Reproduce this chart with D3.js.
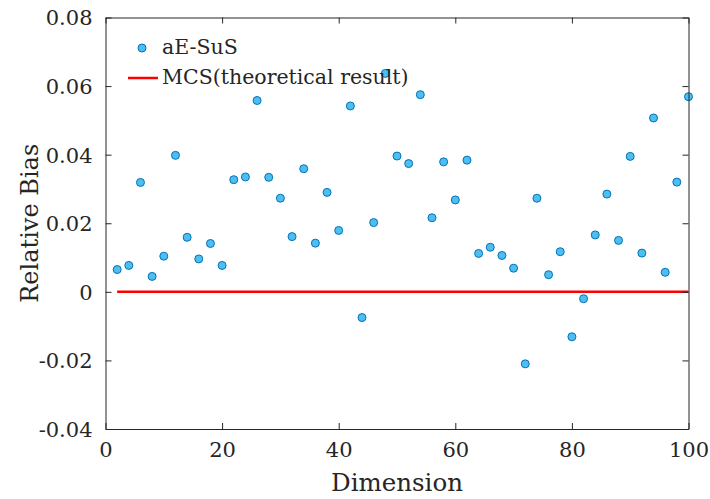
<!DOCTYPE html>
<html><head><meta charset="utf-8">
<script src="https://cdn.jsdelivr.net/npm/d3@7"></script>
<style>html,body{margin:0;padding:0;background:#fff;}svg{display:block;}</style>
</head><body>
<script>
const dims = [2,4,6,8,10,12,14,16,18,20,22,24,26,28,30,32,34,36,38,40,42,44,46,48,50,52,54,56,58,60,62,64,66,68,70,72,74,76,78,80,82,84,86,88,90,92,94,96,98,100];
const biasValues = [0.0065,0.0077,0.0319,0.0045,0.0104,0.0398,0.0159,0.0096,0.0141,0.0077,
  0.0327,0.0335,0.0558,0.0334,0.0273,0.0161,0.0359,0.0142,0.0290,0.0179,
  0.0542,-0.0075,0.0202,0.0637,0.0396,0.0374,0.0575,0.0216,0.0379,0.0268,
  0.0384,0.0112,0.0130,0.0106,0.0069,-0.0210,0.0273,0.0050,0.0117,-0.0131,
  -0.0020,0.0166,0.0285,0.0150,0.0395,0.0113,0.0507,0.0057,0.0320,0.0569];
const mcsX = [2,100];
const mcsY = [0,0];
const xTicks = [0,20,40,60,80,100];
const yTicks = [-0.04,-0.02,0,0.02,0.04,0.06,0.08];
const yTickLabels = ["-0.04","-0.02","0","0.02","0.04","0.06","0.08"];
const legendLabels = ["aE-SuS","MCS(theoretical result)"];

const W=710,H=499;
const L=105.5,R=688.5,T=17.5,B=429;
const font='"DejaVu Serif", serif';
const axisColor='#262626';
const svg=d3.select('body').append('svg').attr('width',W).attr('height',H);
const x=d3.scaleLinear().domain([0,100]).range([L,R]);
const y=d3.scaleLinear().domain([-0.04,0.08]).range([B,T]);

svg.append('path').datum(mcsX.map((d,i)=>[d,mcsY[i]]))
  .attr('d',d3.line().x(d=>x(d[0])).y(d=>y(d[1])))
  .attr('stroke','#ff0000').attr('stroke-width',2.5).attr('fill','none');

svg.append('g').selectAll('circle').data(dims).join('circle')
  .attr('cx',d=>x(d)).attr('cy',(d,i)=>y(biasValues[i])).attr('r',4)
  .attr('fill','#4dbeee').attr('stroke','#0072bd').attr('stroke-width',1);

const tl=6;
const gx=svg.append('g').attr('transform',`translate(0,${B})`)
  .call(d3.axisBottom(x).tickValues(xTicks).tickSizeInner(-tl).tickSizeOuter(0).tickPadding(10).tickFormat(d3.format('d')));
const gxt=svg.append('g').attr('transform',`translate(0,${T})`)
  .call(d3.axisTop(x).tickValues(xTicks).tickSizeInner(-tl).tickSizeOuter(0).tickFormat(''));
const gy=svg.append('g').attr('transform',`translate(${L},0)`)
  .call(d3.axisLeft(y).tickValues(yTicks).tickSizeInner(-tl).tickSizeOuter(0).tickPadding(13).tickFormat((d,i)=>yTickLabels[i]));
const gyr=svg.append('g').attr('transform',`translate(${R},0)`)
  .call(d3.axisRight(y).tickValues(yTicks).tickSizeInner(-tl).tickSizeOuter(0).tickFormat(''));
[gx,gxt,gy,gyr].forEach(g=>{
  g.selectAll('path,line').attr('stroke',axisColor).attr('stroke-width',1);
  g.selectAll('text').attr('fill',axisColor).attr('font-family',font).attr('font-size',21);
});
gx.selectAll('text').attr('dy','0.85em');
gy.selectAll('text').attr('dy','0.35em');

svg.append('text').attr('x',(L+R)/2).attr('y',491).attr('text-anchor','middle')
  .attr('font-family',font).attr('font-size',24.5).attr('fill',axisColor).text('Dimension');
svg.append('text').attr('transform',`translate(38,${(T+B)/2}) rotate(-90)`).attr('text-anchor','middle')
  .attr('font-family',font).attr('font-size',24).attr('fill',axisColor).text('Relative Bias');

const lg=svg.append('g');
lg.append('circle').attr('cx',142).attr('cy',48).attr('r',4).attr('fill','#4dbeee').attr('stroke','#0072bd');
lg.append('line').attr('x1',128).attr('x2',158).attr('y1',78).attr('y2',78).attr('stroke','#ff0000').attr('stroke-width',2.5);
lg.selectAll('text.lab').data(legendLabels).join('text').attr('class','lab')
  .attr('x',162).attr('y',(d,i)=>47+i*30).attr('dy','0.35em')
  .attr('font-family',font).attr('font-size',20.5).attr('fill',axisColor).text(d=>d);
</script>
</body></html>
